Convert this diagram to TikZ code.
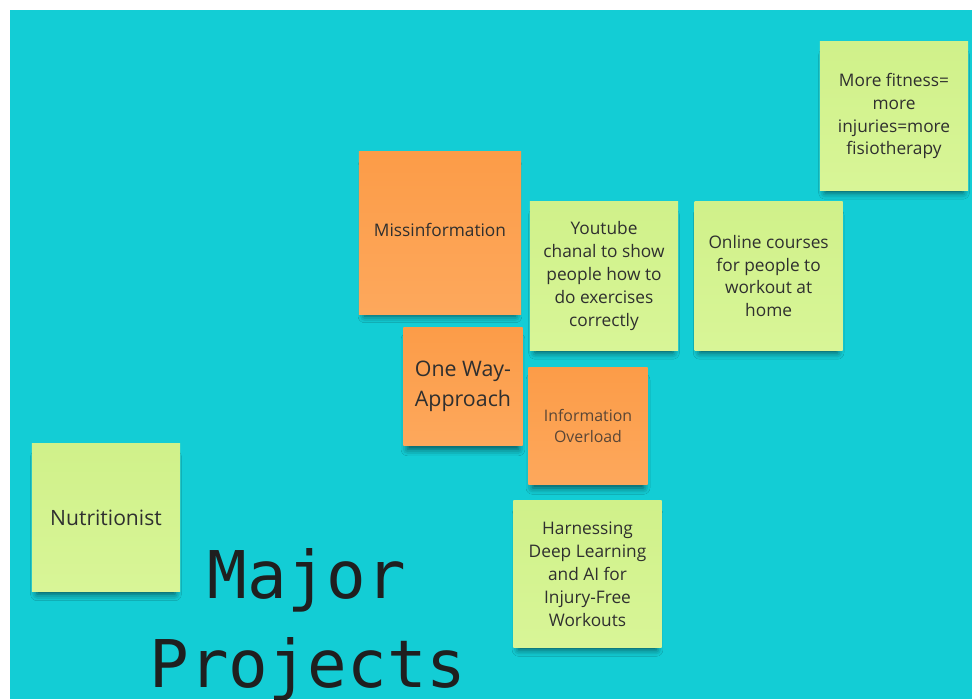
\documentclass[tikz,border=0pt]{standalone}
\usepackage{fontspec}
\setmainfont{Open Sans}
\newfontfamily\titlefont{DejaVu Sans Mono}
\usepackage{tikz}
\usetikzlibrary{positioning,shadows.blur}
\definecolor{board}{HTML}{13CDD5}
\definecolor{greentop}{HTML}{D0F18A}
\definecolor{greenbottom}{HTML}{D8F597}
\definecolor{orangetop}{HTML}{FC9C48}
\definecolor{orangebottom}{HTML}{FDA85C}
\definecolor{ink}{HTML}{2F2F2F}
\definecolor{softink}{HTML}{5A4636}
\tikzset{
	sticky note/.style={
		rectangle,
		inner sep=2pt,
		align=center,
		text=ink,
		font=\fontsize{12.3}{16.3}\selectfont,
		blur shadow={
			shadow xshift=0pt,
			shadow yshift=-6pt,
			shadow scale=0.93,
			shadow blur radius=5pt,
			shadow opacity=60
		}
	},
	green note/.style={
		sticky note,
		top color=greentop,
		bottom color=greenbottom,
		minimum width=3.7cm,
		minimum height=3.7cm
	},
	orange note/.style={
		sticky note,
		top color=orangetop,
		bottom color=orangebottom
	},
	small note/.style={
		minimum width=2.98cm,
		minimum height=2.95cm
	},
	board title/.style={
		anchor=base,
		inner sep=0pt,
		text=black!88,
		font=\titlefont\fontsize{46.8}{63}\selectfont
	}
}

\begin{document}
\begin{tikzpicture}[x=0.025cm,y=-0.025cm]
	\useasboundingbox (0,0) rectangle (972,699);
	\fill[white] (0,0) rectangle (972,699);
	\fill[board] (10,10) rectangle (972,699);

	% notes, top row first so the lower ones cover the shadows above them
	\node[green note] (fitness) at (894,116) {More fitness=\\more\\injuries=more\\fisiotherapy};
	\node[orange note, minimum width=4.05cm, minimum height=4.05cm, text depth=0.8ex] (missinfo) at (440,233) {Missinformation};
	\node[green note] (youtube) at (604,276) {Youtube\\chanal to show\\people how to\\do exercises\\correctly};
	\node[green note, right=0.4cm of youtube] (online) {Online courses\\for people to\\workout at\\home};
	\node[orange note, small note, font=\fontsize{15.2}{21.3}\selectfont] (oneway) at (463,386.5) {One Way-\\Approach};
	\node[orange note, small note, minimum height=2.9cm, text=softink, font=\fontsize{11.3}{15.6}\selectfont] (overload) at (588,426) {Information\\Overload};
	\node[green note, font=\fontsize{15}{20}\selectfont] (nutrition) at (106,517.5) {Nutritionist};
	\node[green note, minimum height=3.65cm] (harness) at (587.5,574) {Harnessing\\Deep Learning\\and AI for\\Injury-Free\\Workouts};

	% board heading
	\node[board title] (major) at (307,598) {Major};
	\node[board title] (projects) at (308,687) {Projects};
\end{tikzpicture}
\end{document}
